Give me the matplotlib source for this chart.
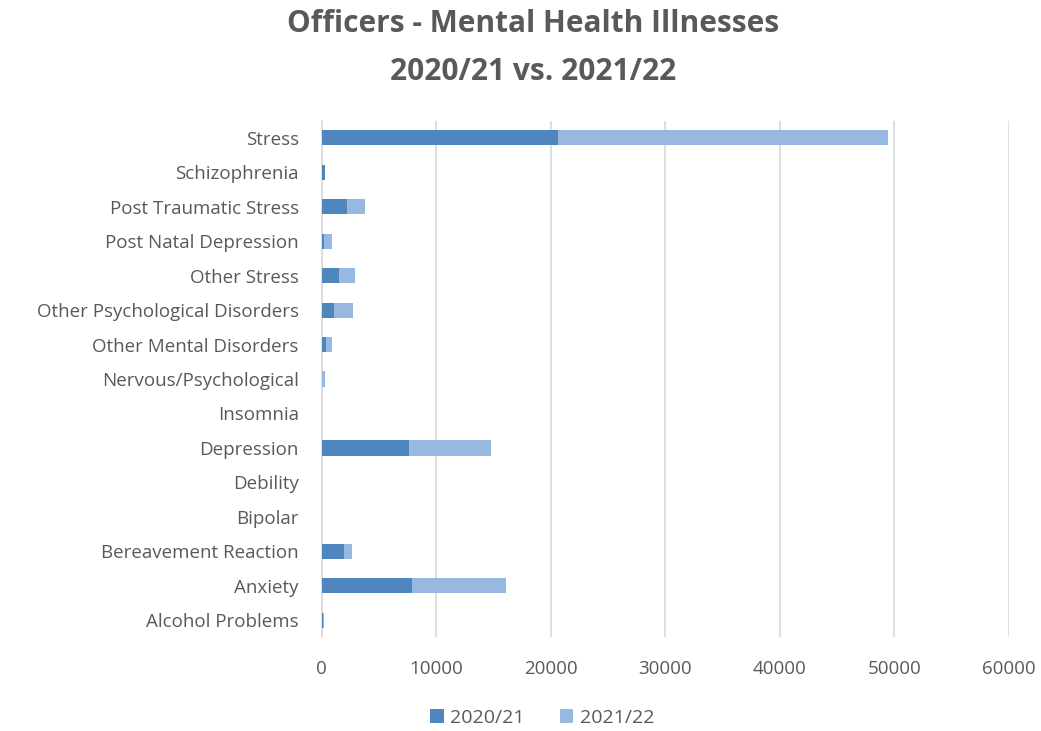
import matplotlib
matplotlib.use("Agg")
import matplotlib.pyplot as plt

categories = ["Alcohol Problems", "Anxiety", "Bereavement Reaction", "Bipolar", "Debility",
              "Depression", "Insomnia", "Nervous/Psychological", "Other Mental Disorders",
              "Other Psychological Disorders", "Other Stress", "Post Natal Depression",
              "Post Traumatic Stress", "Schizophrenia", "Stress"]
s2020 = [120, 7930, 1920, 0, 0, 7670, 0, 60, 380, 1080, 1510, 230, 2210, 250, 20670]
s2021 = [80, 8170, 700, 0, 0, 7140, 0, 260, 520, 1660, 1410, 670, 1580, 70, 28760]
xticks = [0, 10000, 20000, 30000, 40000, 50000, 60000]

plt.rcParams['font.family'] = ['Open Sans', 'DejaVu Sans']
grey = "#595959"
c1 = "#4e86bd"
c2 = "#97b9e0"

fig = plt.figure(figsize=(10.41, 7.31), dpi=100)
ax = fig.add_axes([0.309, 0.128, 0.66, 0.707])
y = list(range(len(categories)))
ax.barh(y, s2020, height=0.44, color=c1, label="2020/21", zorder=3)
ax.barh(y, s2021, left=s2020, height=0.44, color=c2, label="2021/22", zorder=3)
ax.set_ylim(-0.5, len(categories) - 0.5)
ax.set_xlim(0, 60000)
ax.set_xticks(xticks)
ax.set_xticklabels([str(v) for v in xticks])
ax.set_yticks(y)
ax.set_yticklabels(categories)
ax.tick_params(axis='both', length=0, labelsize=13.5, colors=grey)
ax.tick_params(axis='x', pad=16)
ax.tick_params(axis='y', pad=16.5)
ax.grid(axis='x', color="#d9d9d9", linewidth=1.2, zorder=0)
for s in ["top", "right", "bottom"]:
    ax.spines[s].set_visible(False)
ax.spines["left"].set_color("#d9d9d9")
ax.spines["left"].set_linewidth(1.2)

fig.text(0.512, 1 - 24 / 731, "Officers - Mental Health Illnesses", ha='center', va='center',
         fontsize=21.5, fontweight='bold', color=grey)
fig.text(0.512, 1 - 72 / 731, "2020/21 vs. 2021/22", ha='center', va='center',
         fontsize=21.5, fontweight='bold', color=grey)
leg = fig.legend(loc='center', bbox_to_anchor=(0.521, 1 - 718 / 731), ncol=2, frameon=False,
                 fontsize=14, handlelength=0.7, handleheight=0.7, columnspacing=1.8, handletextpad=0.35)
for t in leg.get_texts():
    t.set_color(grey)
fig.savefig("out.png", dpi=100)
